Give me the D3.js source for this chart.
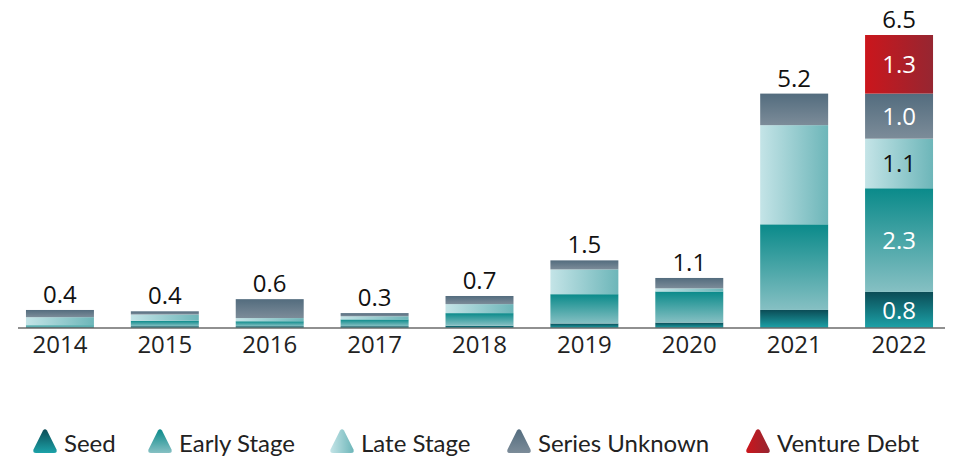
<!DOCTYPE html>
<html lang="en">
<head>
    <meta charset="UTF-8">
    <script src="https://d3js.org/d3.v7.min.js"></script>
    <title>Funding by stage</title>
    <style>
        body { margin: 0; background: #fff; }
    </style>
</head>
<body>
<svg class="chart"></svg>

<script>
    let years = ['2014', '2015', '2016', '2017', '2018', '2019', '2020', '2021', '2022'];
    let stages = ['Seed', 'Early Stage', 'Late Stage', 'Series Unknown', 'Venture Debt'];
    let seed = [0.02, 0.04, 0.04, 0.04, 0.05, 0.1, 0.12, 0.4, 0.8];
    let early = [0.04, 0.12, 0.11, 0.15, 0.28, 0.65, 0.69, 1.9, 2.3];
    let late = [0.18, 0.14, 0.07, 0.07, 0.2, 0.55, 0.07, 2.2, 1.1];
    let unknown = [0.16, 0.07, 0.42, 0.07, 0.18, 0.2, 0.23, 0.7, 1.0];
    let debt = [0, 0, 0, 0, 0, 0, 0, 0, 1.3];
    let totals = ['0.4', '0.4', '0.6', '0.3', '0.7', '1.5', '1.1', '5.2', '6.5'];
    // only the 2022 bar carries labels inside the segments
    let inner_labels = {'2022': ['0.8', '2.3', '1.1', '1.0', '1.3']};

    let width = 955;
    let height = 456;
    let axis_y = 328;
    let font = '"Open Sans", sans-serif';

    let table = years.map(function (y, i) {
        return {year: y, 'Seed': seed[i], 'Early Stage': early[i], 'Late Stage': late[i],
            'Series Unknown': unknown[i], 'Venture Debt': debt[i]};
    });

    let svg = d3.select('.chart').attr('width', width).attr('height', height);

    // gradients, one per stage
    let grads = [
        {id: 'g0', x2: 0, y2: 1, stops: ['#0b4c56', '#1ca2a8']},
        {id: 'g1', x2: 0, y2: 1, stops: ['#0a8a8a', '#86c0c3']},
        {id: 'g2', x2: 1, y2: 0, stops: ['#c4e4e7', '#6db6b9']},
        {id: 'g3', x2: 0, y2: 1, stops: ['#536c7e', '#7c8c99']},
        {id: 'g4', x2: 1, y2: 0, stops: ['#cb161c', '#962631']}
    ];
    let defs = svg.append('defs');
    grads.forEach(function (g) {
        let lg = defs.append('linearGradient').attr('id', g.id)
            .attr('x1', 0).attr('y1', 0).attr('x2', g.x2).attr('y2', g.y2);
        lg.append('stop').attr('offset', '0%').attr('stop-color', g.stops[0]);
        lg.append('stop').attr('offset', '100%').attr('stop-color', g.stops[1]);
    });

    var x_range = d3.scaleBand()
        .domain(years)
        .range([7.5, 951.5])
        .paddingInner(0.352)
        .paddingOuter(0.176);

    var y_range = d3.scaleLinear()
        .domain([0, 6.5])
        .range([axis_y, 35]);

    let stacked = d3.stack().keys(stages)(table);

    let layers = svg.selectAll('g.layer')
        .data(stacked)
        .enter()
        .append('g')
        .attr('class', 'layer')
        .attr('fill', function (d, i) { return 'url(#g' + i + ')'; });

    layers.selectAll('rect')
        .data(function (d) { return d; })
        .enter()
        .append('rect')
        .attr('x', function (d) { return x_range(d.data.year); })
        .attr('width', x_range.bandwidth())
        .attr('y', function (d) { return y_range(d[1]); })
        .attr('height', function (d) { return y_range(d[0]) - y_range(d[1]); });

    // labels inside the 2022 segments
    stacked.forEach(function (layer, k) {
        layer.forEach(function (d) {
            let labs = inner_labels[d.data.year];
            if (!labs) return;
            svg.append('text')
                .attr('x', x_range(d.data.year) + x_range.bandwidth() / 2)
                .attr('y', (y_range(d[0]) + y_range(d[1])) / 2)
                .attr('dy', '0.36em')
                .attr('text-anchor', 'middle')
                .style('font-family', font)
                .style('font-size', '24px')
                .style('fill', k === 2 ? '#111' : '#fff')
                .text(labs[k]);
        });
    });

    // totals above bars
    svg.selectAll('text.total')
        .data(table)
        .enter()
        .append('text')
        .attr('class', 'total')
        .attr('x', function (d) { return x_range(d.year) + x_range.bandwidth() / 2; })
        .attr('y', function (d, i) {
            let sum = seed[i] + early[i] + late[i] + unknown[i] + debt[i];
            return y_range(sum) - 7;
        })
        .attr('text-anchor', 'middle')
        .style('font-family', font)
        .style('font-size', '24px')
        .style('fill', '#111')
        .text(function (d, i) { return totals[i]; });

    // x axis
    let axis = svg.append('g')
        .attr('transform', 'translate(0,' + axis_y + ')')
        .call(d3.axisBottom(x_range).tickSize(0).tickPadding(8));
    axis.select('.domain').remove();
    axis.append('line')
        .attr('x1', 18).attr('x2', 945)
        .style('stroke', '#6b6b6b').style('stroke-width', 1.5);
    axis.selectAll('text')
        .style('font-family', font)
        .style('font-size', '24px')
        .style('fill', '#222');

    // legend
    let legend_x = [33, 148, 330, 507, 746];
    let legend = svg.selectAll('g.legend')
        .data(stages)
        .enter()
        .append('g')
        .attr('class', 'legend')
        .attr('transform', function (d, i) { return 'translate(' + legend_x[i] + ',429)'; });

    legend.append('path')
        .attr('d', 'M10,1.5 Q12,-1 14,1.5 L23.5,20.5 Q24.5,24 21,24 L3,24 Q-0.5,24 0.5,20.5 Z')
        .attr('fill', function (d, i) { return 'url(#g' + i + ')'; });

    legend.append('text')
        .attr('x', 31)
        .attr('y', 22.5)
        .style('font-family', 'Lato, sans-serif')
        .style('font-size', '24px')
        .style('fill', '#222')
        .text(function (d) { return d; });
</script>
</body>
</html>
